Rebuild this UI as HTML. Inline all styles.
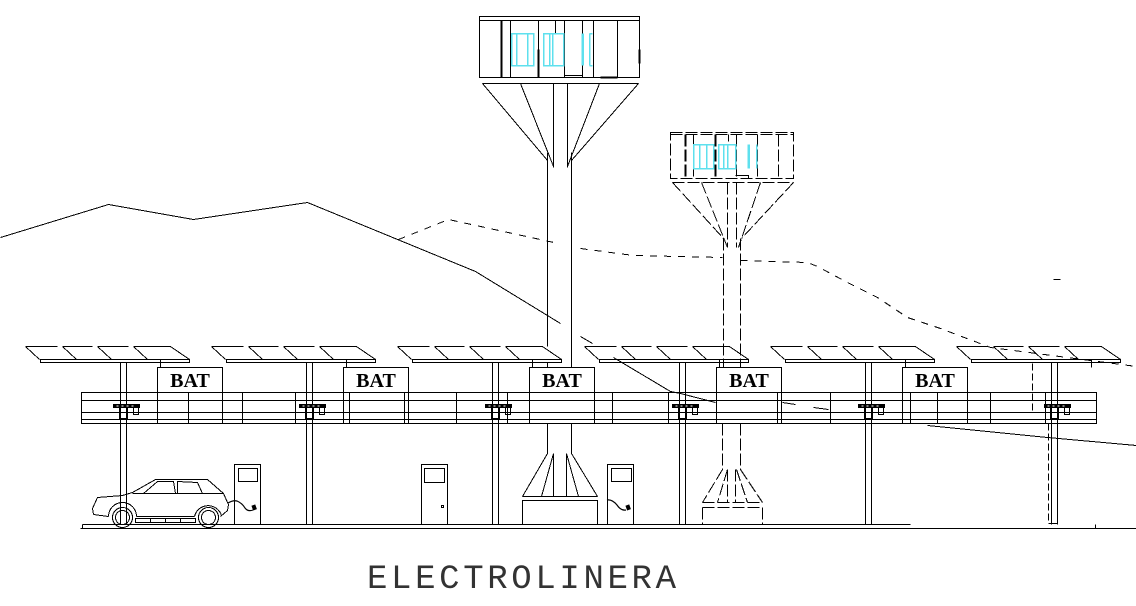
<!DOCTYPE html>
<html><head><meta charset="utf-8"><style>
html,body{margin:0;padding:0;background:#fff;}
svg{display:block}
</style></head><body>
<svg width="1136" height="606" viewBox="0 0 1136 606" xmlns="http://www.w3.org/2000/svg">
<rect width="1136" height="606" fill="#fff"/>
<defs>
<g id="u">
 <path d="M25 346H57M62 346H92M97 346H128M133 346H170M25 346L39 359M62 346L76 359M97 346L111 359M133 346L147 359M170 346L189 359"/>
 <rect x="40" y="359" width="149" height="3"/>
 <path d="M160 359V367M120 362V524M126 362V524"/>
 <rect x="113" y="404" width="26" height="3" fill="#000"/>
 <path d="M116 405.5h2M121 405.5h2M126 405.5h2M131 405.5h2" stroke="#fff"/>
 <rect x="119" y="407" width="8" height="11"/>
 <rect x="133" y="407" width="5" height="7"/>
</g>
</defs>
<g fill="none" stroke="#000" stroke-width="1" transform="translate(0.5,0.5)" shape-rendering="crispEdges">

 <!-- hills -->
 <path d="M0 237L108 204L193 219L307 202L475 271L560 323 M580 336L592 343 M613 357L670 391L680 393L715 402 M782 402L795 404 M813 407L828 409 M849 412L857 412 M927 425L1047 437L1136 445"/>
 <path d="M398 239L448 219L558 243 M580 248L633 255L722 257 M740 260L807 262L817 266L847 282L877 297L907 317L940 328L977 342L990 347L1136 366 M1053 279H1060" stroke-dasharray="7,7"/>

 <!-- canopy units -->
 <use href="#u" transform="translate(0,0)"/>
 <use href="#u" transform="translate(186,0)"/>
 <use href="#u" transform="translate(372,0)"/>
 <use href="#u" transform="translate(559,0)"/>
 <use href="#u" transform="translate(745,0)"/>
 <use href="#u" transform="translate(931,0)"/>

 <!-- BAT boxes -->
 <rect x="157" y="367" width="65" height="25"/>
 <rect x="343" y="367" width="65" height="25"/>
 <rect x="529" y="367" width="65" height="25"/>
 <rect x="716" y="367" width="65" height="25"/>
 <rect x="902" y="367" width="65" height="25"/>

 <!-- main beam -->
 <rect x="81" y="392" width="1015" height="31"/>
 <path d="M81 400H1096M81 412H1096M81 419H1096"/>
 <path d="M157 392V423M188 392V423M222 392V423M242 392V423M295 392V423M343 392V423M349 392V423M404 392V423M408 392V423M456 392V423M507 392V423M529 392V423M594 392V423M612 392V423M668 392V423M716 392V423M777 392V423M781 392V423M830 392V423M902 392V423M910 392V423M937 392V423M967 392V423M990 392V423M1045 392V423"/>
 <path d="M1032 363V412M1048 423V523" stroke-dasharray="7,3"/>
 <path d="M1048 523H1057"/>

 <!-- tower 1 -->
 <rect x="479" y="16" width="160" height="61"/>
 <path d="M479 20H639 M510 20V77 M538 20V77 M564 20V77 M582 20V77 M593 20V77 M617 20V77 M555 20V33H564 M564 75H582"/>
 <path d="M501 20V77 M538 49V77 M600 77H617 M639 49V63" stroke-width="2"/>
 <g stroke="#5ee0ee" stroke-width="1.5">
  <rect x="511" y="33" width="22" height="32"/>
  <path d="M516 33V65M527 33V65"/>
  <rect x="543" y="33" width="20" height="32"/>
  <path d="M549 33V65M552 33V65M589 33V65M589 33h3M589 65h3"/>
  <path d="M582 33V65" stroke-width="2.5"/>
 </g>
 <path d="M482 83H638 M482 83L547 160 M520 83L553 166 M553 83V167 M567 83V167 M599 83L567 166 M638 83L571 160 M547 152V346 M547 362V367 M571 152V367"/>
 <path d="M547 423V453 M571 423V453 M547 453L522 496 M553 453L541 496 M553 453V496 M566 453V496 M566 453L578 496 M571 453L597 496 M522 496H597"/>
 <rect x="522" y="500" width="75" height="24"/>

 <!-- tower 2 (dashed) -->
 <g stroke-dasharray="12,3">
  <rect x="670" y="132" width="123" height="46"/>
  <path d="M670 134H793 M693 134V178 M736 134V178 M757 134V178 M778 134V178 M672 182H793 M672 182L723 238 M701 182L727 247 M760 182L738 247 M793 182L741 238 M727 182V247 M736 182V247 M723 238V367 M740 238V367"/>
  <path d="M685 134V178 M715 134V178" stroke-width="2"/>
  <path d="M722 423V469 M740 423V469 M722 469L702 502 M727 469L717 502 M727 469V502 M735 469V502 M736 469L747 502 M740 469L762 502 M702 502H762 M702 507H762 M702 507V524 M762 507V524"/>
 </g>
 <path d="M728 134V141 M735 175H748V178"/>
 <g stroke="#5ee0ee" stroke-width="1.5">
  <rect x="693" y="144" width="20" height="24"/>
  <path d="M699 144V168M706 144V168"/>
  <rect x="718" y="144" width="17" height="24"/>
  <path d="M723 144V168M727 144V168M756 144V168"/>
  <path d="M748 144V168" stroke-width="2.5"/>
 </g>

 <!-- ground -->
 <path d="M80 528H1136 M82 524H910 M82 524V528 M1095 524V528"/>

 <!-- car -->
 <path d="M93 514L92 508L97 497L122 495L132 492L155 479H207L223 493L227 502L228 504L227 510L220 516"/>
 <path d="M132 493H223"/>
 <path d="M143 493L157 481H173L175 493Z M177 481L197 482L202 493H177Z"/>
 <circle cx="122" cy="517" r="10"/><circle cx="122" cy="517" r="7"/>
 <circle cx="208" cy="517" r="10"/><circle cx="208" cy="517" r="7"/>
 <path d="M93 514L108 516 M108 516A14 14 0 0 1 136 516 M136 516H194 M194 516A14 14 0 0 1 221 515"/>
 <rect x="135" y="518" width="60" height="4"/>
 <path d="M150 518V522M165 518V522M180 518V522"/>

 <!-- chargers -->
 <rect x="234" y="464" width="26" height="60"/>
 <rect x="238" y="468" width="19" height="13"/>
 <rect x="607" y="464" width="26" height="60"/>
 <rect x="611" y="468" width="20" height="13"/>

 <!-- door -->
 <rect x="421" y="464" width="26" height="60"/>
 <rect x="424" y="468" width="20" height="14"/>
 <rect x="441" y="505" width="2" height="2"/>
</g>

<!-- cables -->
<g fill="none" stroke="#000" stroke-width="1.2">
 <path d="M228 503Q233 500 237 501Q242 503 245 508Q248 512 253 510"/>
 <path d="M607 500Q612 499 617 505Q621 511 626 510"/>
</g>
<rect x="252" y="505" width="4" height="5" fill="#000" transform="rotate(-20 254 507)"/>
<rect x="626" y="505" width="4" height="5" fill="#000" transform="rotate(-20 628 507)"/>

<!-- labels -->
<g font-family="'Liberation Serif', serif" font-weight="bold" font-size="20" fill="#000" text-anchor="middle">
 <text x="190" y="387">BAT</text>
 <text x="376" y="387">BAT</text>
 <text x="562" y="387">BAT</text>
 <text x="749" y="387">BAT</text>
 <text x="935" y="387">BAT</text>
</g>
<text x="367" y="588" font-family="'Liberation Mono', monospace" font-size="34" fill="#333" textLength="309" lengthAdjust="spacing">ELECTROLINERA</text>
</svg>
</body></html>
